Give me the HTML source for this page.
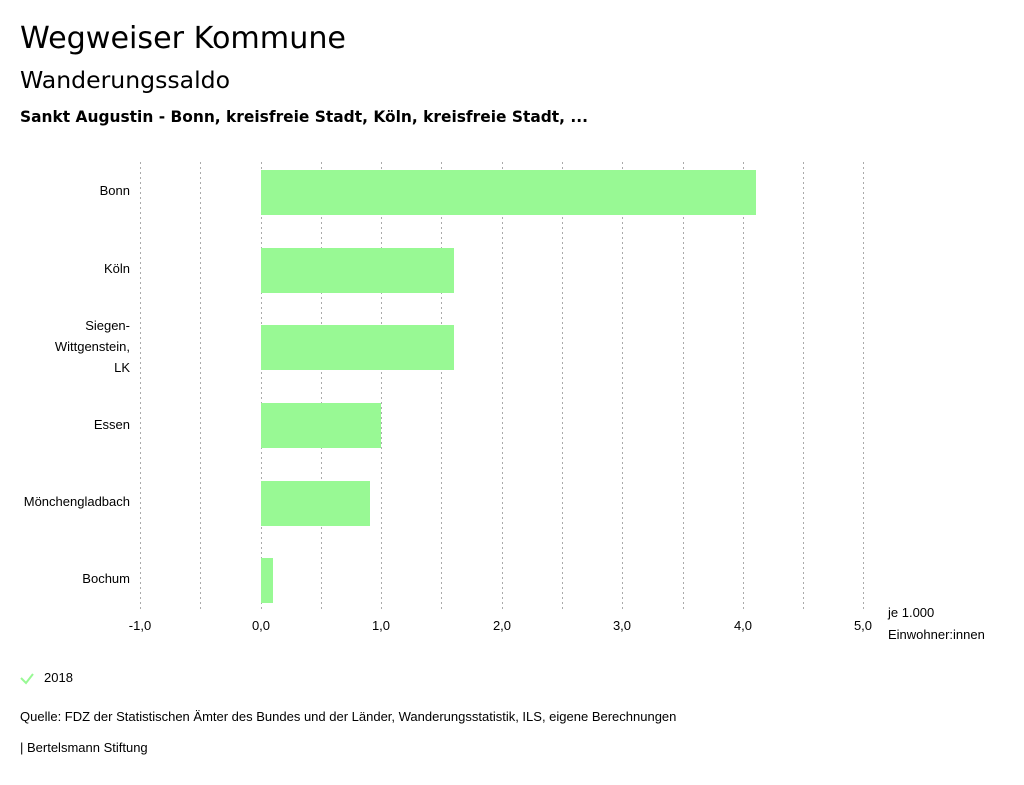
<!DOCTYPE html>
<html><head><meta charset="utf-8"><style>
body{margin:0;background:#fff;font-family:"Liberation Sans",sans-serif;color:#000}
</style></head><body>
<svg width="1024" height="780" xmlns="http://www.w3.org/2000/svg" font-family="Liberation Sans, sans-serif">
<text x="20" y="48" font-size="30" font-family="DejaVu Sans, sans-serif" textLength="326" lengthAdjust="spacingAndGlyphs">Wegweiser Kommune</text>
<text x="20" y="88" font-size="23" font-family="DejaVu Sans, sans-serif" textLength="210" lengthAdjust="spacingAndGlyphs">Wanderungssaldo</text>
<text x="20" y="122" font-size="16" font-weight="bold" font-family="DejaVu Sans, sans-serif" textLength="568" lengthAdjust="spacingAndGlyphs">Sankt Augustin - Bonn, kreisfreie Stadt, Köln, kreisfreie Stadt, ...</text>
<g stroke="#aaa" stroke-width="1" stroke-dasharray="2,3">
<line x1="140.5" y1="162" x2="140.5" y2="610"/><line x1="200.5" y1="162" x2="200.5" y2="610"/>
<line x1="261.5" y1="162" x2="261.5" y2="610"/><line x1="321.5" y1="162" x2="321.5" y2="610"/>
<line x1="381.5" y1="162" x2="381.5" y2="610"/><line x1="441.5" y1="162" x2="441.5" y2="610"/>
<line x1="502.5" y1="162" x2="502.5" y2="610"/><line x1="562.5" y1="162" x2="562.5" y2="610"/>
<line x1="622.5" y1="162" x2="622.5" y2="610"/><line x1="683.5" y1="162" x2="683.5" y2="610"/>
<line x1="743.5" y1="162" x2="743.5" y2="610"/><line x1="803.5" y1="162" x2="803.5" y2="610"/>
<line x1="863.5" y1="162" x2="863.5" y2="610"/>
</g>
<g fill="#98f994">
<rect x="261" y="170" width="495" height="45"/>
<rect x="261" y="248" width="193" height="45"/>
<rect x="261" y="325" width="193" height="45"/>
<rect x="261" y="403" width="120" height="45"/>
<rect x="261" y="481" width="109" height="45"/>
<rect x="261" y="558" width="12" height="45"/>
</g>
<g font-size="13" text-anchor="end">
<text x="130" y="195">Bonn</text>
<text x="130" y="273">Köln</text>
<text x="130" y="330">Siegen-</text>
<text x="130" y="351">Wittgenstein,</text>
<text x="130" y="372">LK</text>
<text x="130" y="429">Essen</text>
<text x="130" y="506">Mönchengladbach</text>
<text x="130" y="583">Bochum</text>
</g>
<g font-size="13" text-anchor="middle">
<text x="140" y="630">-1,0</text><text x="261" y="630">0,0</text><text x="381" y="630">1,0</text>
<text x="502" y="630">2,0</text><text x="622" y="630">3,0</text><text x="743" y="630">4,0</text><text x="863" y="630">5,0</text>
</g>
<text x="888" y="617" font-size="13">je 1.000</text>
<text x="888" y="639" font-size="13">Einwohner:innen</text>
<polyline points="21,678 26,683 33,674" fill="none" stroke="#98f994" stroke-width="2"/>
<text x="44" y="682" font-size="13">2018</text>
<text x="20" y="721" font-size="13">Quelle: FDZ der Statistischen Ämter des Bundes und der Länder, Wanderungsstatistik, ILS, eigene Berechnungen</text>
<text x="20" y="752" font-size="13">| Bertelsmann Stiftung</text>
</svg>
</body></html>
